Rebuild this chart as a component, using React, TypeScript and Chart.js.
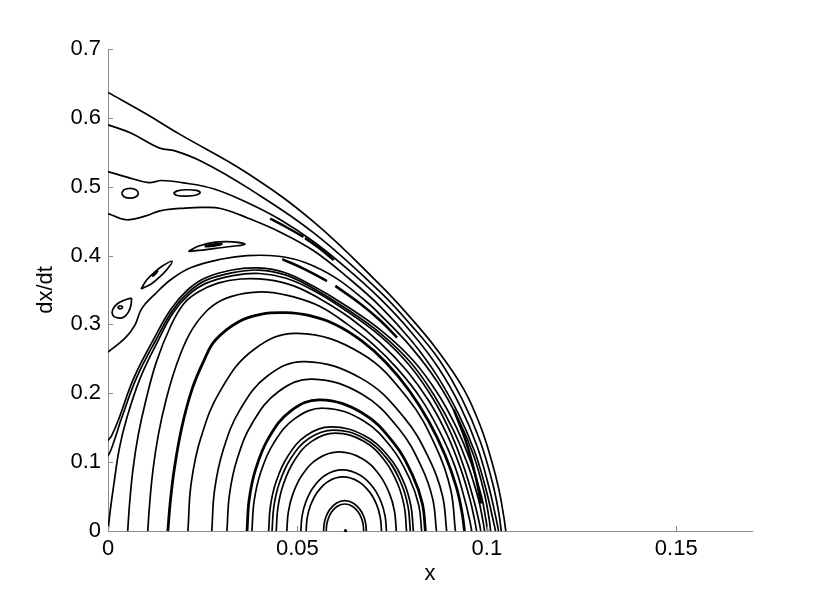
import React, { useEffect, useRef } from 'react';
import { Chart, registerables } from 'chart.js';

Chart.register(...registerables);

type Pt = [number, number];

// ---- axes ----
const xTicks: number[] = [0, 0.05, 0.1, 0.15];
const xTickLabels: string[] = ['0', '0.05', '0.1', '0.15'];
const yTicks: number[] = [0, 0.1, 0.2, 0.3, 0.4, 0.5, 0.6, 0.7];
const yTickLabels: string[] = ['0', '0.1', '0.2', '0.3', '0.4', '0.5', '0.6', '0.7'];
const xRange: number[] = [0, 0.17];
const yRange: number[] = [0, 0.7];

// ---- outer trajectories (leave the wall x = 0) ----
const curveA: Pt[] = [[0, 0.637], [0.010, 0.606], [0.019, 0.576], [0.0367, 0.520], [0.0543, 0.449], [0.0719, 0.357], [0.0800, 0.309], [0.0869, 0.263], [0.0939, 0.206], [0.0984, 0.151], [0.1012, 0.103], [0.1032, 0.060], [0.1045, 0.020], [0.1050, 0]];
const curveB: Pt[] = [[0, 0.590], [0.006, 0.578], [0.0137, 0.556], [0.0177, 0.552], [0.025, 0.536], [0.0367, 0.499], [0.0543, 0.433], [0.0719, 0.347], [0.0800, 0.299], [0.0875, 0.248], [0.0935, 0.191], [0.0982, 0.131], [0.1015, 0.070], [0.1032, 0.025], [0.1038, 0]];
const curveC: Pt[] = [[0, 0.522], [0.005, 0.514], [0.0107, 0.506], [0.0142, 0.509], [0.0195, 0.506], [0.0278, 0.497], [0.0367, 0.477], [0.0455, 0.452], [0.0543, 0.420], [0.0631, 0.381], [0.0719, 0.337], [0.0800, 0.289], [0.0872, 0.237], [0.0930, 0.181], [0.0975, 0.122], [0.1005, 0.065], [0.1023, 0.022], [0.1031, 0]];
const curveD: Pt[] = [[0, 0.461], [0.0049, 0.452], [0.0102, 0.458], [0.0137, 0.465], [0.0204, 0.469], [0.0256, 0.470], [0.0300, 0.468], [0.0367, 0.455], [0.0455, 0.434], [0.0543, 0.407], [0.0631, 0.369], [0.0719, 0.326], [0.0800, 0.277], [0.0868, 0.226], [0.0925, 0.170], [0.0968, 0.115], [0.0998, 0.060], [0.1015, 0.020], [0.1023, 0]];
const curveE: Pt[] = [[0, 0.260], [0.0045, 0.280], [0.0071, 0.299], [0.0089, 0.323], [0.0124, 0.344], [0.0168, 0.366], [0.0221, 0.383], [0.0301, 0.395], [0.0367, 0.400], [0.0450, 0.399], [0.0520, 0.390], [0.0600, 0.368], [0.0680, 0.334], [0.0719, 0.314], [0.0800, 0.267], [0.0870, 0.216], [0.0925, 0.162], [0.0965, 0.110], [0.0993, 0.056], [0.1006, 0.018], [0.1010, 0]];
const curveF: Pt[] = [[0, 0.131], [0.0010, 0.139], [0.0028, 0.162], [0.0068, 0.222], [0.0122, 0.280], [0.0166, 0.322], [0.0210, 0.350], [0.0255, 0.367], [0.0327, 0.379], [0.0397, 0.382], [0.0468, 0.375], [0.0540, 0.356], [0.0620, 0.330], [0.0719, 0.292], [0.0805, 0.248], [0.0870, 0.200], [0.0920, 0.150], [0.0958, 0.100], [0.0986, 0.050], [0.0998, 0.015], [0.1002, 0]];
const curveG: Pt[] = [[0, 0.109], [0.0008, 0.118], [0.0020, 0.137], [0.0036, 0.164], [0.0075, 0.222], [0.0126, 0.277], [0.0170, 0.320], [0.0213, 0.347], [0.0258, 0.364], [0.0328, 0.375], [0.0398, 0.379], [0.0468, 0.372], [0.0540, 0.353], [0.0620, 0.326], [0.0719, 0.287], [0.0800, 0.244], [0.0862, 0.196], [0.0912, 0.146], [0.0950, 0.096], [0.0978, 0.046], [0.0990, 0.014], [0.0994, 0]];
const curveH: Pt[] = [[0, 0], [0.0006, 0.03], [0.0016, 0.07], [0.0030, 0.12], [0.0048, 0.161], [0.0085, 0.222], [0.0130, 0.274], [0.0172, 0.317], [0.0215, 0.344], [0.0260, 0.360], [0.0330, 0.371], [0.0400, 0.374], [0.0470, 0.367], [0.0540, 0.350], [0.0620, 0.323], [0.0719, 0.283], [0.0795, 0.241], [0.0858, 0.192], [0.0905, 0.142], [0.0940, 0.092], [0.0967, 0.042], [0.0980, 0.012], [0.0984, 0]];

// ---- closed orbits around the centre (upper halves) ----
const orbit16: Pt[] = [[0.0052, 0], [0.0057, 0.04], [0.0066, 0.09], [0.0080, 0.14], [0.0100, 0.19], [0.0128, 0.246], [0.0165, 0.297], [0.0200, 0.330], [0.0238, 0.347], [0.0290, 0.360], [0.0350, 0.366], [0.0420, 0.365], [0.0490, 0.356], [0.0560, 0.337], [0.0640, 0.309], [0.0719, 0.273], [0.0790, 0.232], [0.0848, 0.188], [0.0895, 0.140], [0.0930, 0.092], [0.0955, 0.047], [0.0968, 0.015], [0.0973, 0]];
const orbit15: Pt[] = [[0.0105, 0], [0.0110, 0.04], [0.0119, 0.09], [0.0133, 0.14], [0.0153, 0.19], [0.0180, 0.24], [0.0215, 0.286], [0.0256, 0.317], [0.0300, 0.335], [0.0360, 0.345], [0.0420, 0.347], [0.0490, 0.340], [0.0560, 0.326], [0.0630, 0.301], [0.0700, 0.271], [0.0765, 0.235], [0.0825, 0.193], [0.0875, 0.145], [0.0915, 0.095], [0.0942, 0.045], [0.0955, 0.015], [0.0960, 0]];
const orbit14: Pt[] = [[0.0158, 0], [0.0164, 0.04], [0.0175, 0.09], [0.0195, 0.151], [0.0222, 0.206], [0.0252, 0.246], [0.0283, 0.277], [0.0345, 0.304], [0.0406, 0.315], [0.0468, 0.317], [0.0530, 0.313], [0.0600, 0.300], [0.0670, 0.276], [0.0735, 0.244], [0.0795, 0.204], [0.0848, 0.158], [0.0890, 0.110], [0.0920, 0.063], [0.0935, 0.025], [0.0941, 0]];
const orbit13: Pt[] = [[0.0211, 0], [0.02197, 0.0698], [0.02457, 0.1364], [0.02977, 0.2050], [0.03844, 0.2633], [0.050, 0.287], [0.06668, 0.2585], [0.07919, 0.192], [0.0867, 0.1205], [0.09045, 0.0603], [0.0917, 0]];
const orbit12: Pt[] = [[0.0274, 0], [0.02814, 0.0597], [0.03035, 0.1167], [0.03478, 0.1755], [0.04216, 0.2254], [0.052, 0.246], [0.06696, 0.2213], [0.07818, 0.1647], [0.08491, 0.1033], [0.08828, 0.0516], [0.0894, 0]];
const orbit11: Pt[] = [[0.0314, 0], [0.03208, 0.0536], [0.03411, 0.1048], [0.03818, 0.1576], [0.04496, 0.2023], [0.054, 0.2206], [0.06708, 0.1986], [0.07689, 0.1478], [0.08278, 0.0927], [0.08572, 0.0463], [0.0867, 0]];
const orbit10: Pt[] = [[0.0367, 0], [0.03728, 0.0462], [0.03902, 0.0905], [0.04249, 0.136], [0.04828, 0.1746], [0.056, 0.1904], [0.06712, 0.1714], [0.07546, 0.1275], [0.08046, 0.08], [0.08297, 0.04], [0.0838, 0]];
const orbit9: Pt[] = [[0.038, 0], [0.03857, 0.0433], [0.04028, 0.0847], [0.0437, 0.1273], [0.0494, 0.1635], [0.057, 0.1783], [0.06732, 0.1605], [0.07506, 0.1195], [0.0797, 0.0748], [0.08203, 0.0375], [0.0828, 0]];
const orbit8: Pt[] = [[0.0424, 0], [0.0429, 0.0368], [0.04439, 0.0718], [0.04738, 0.1079], [0.05236, 0.1386], [0.059, 0.1511], [0.06764, 0.1386], [0.07412, 0.1079], [0.07801, 0.0718], [0.07995, 0.0368], [0.0806, 0]];
const orbit7: Pt[] = [[0.0433, 0], [0.04379, 0.0357], [0.04524, 0.0696], [0.04816, 0.1047], [0.05302, 0.1344], [0.0595, 0.1466], [0.06762, 0.1344], [0.07371, 0.1047], [0.07736, 0.0696], [0.07919, 0.0357], [0.0798, 0]];
const orbit6: Pt[] = [[0.0444, 0], [0.04487, 0.0346], [0.04627, 0.0675], [0.04908, 0.1014], [0.05376, 0.1302], [0.060, 0.142], [0.06752, 0.1302], [0.07316, 0.1014], [0.07654, 0.0675], [0.07824, 0.0346], [0.0788, 0]];
const orbit5: Pt[] = [[0.0472, 0], [0.04761, 0.0279], [0.04886, 0.0546], [0.05134, 0.082], [0.05548, 0.1053], [0.061, 0.1148], [0.06704, 0.1053], [0.07157, 0.082], [0.07429, 0.0546], [0.07565, 0.0279], [0.0761, 0]];
const orbit4: Pt[] = [[0.0509, 0], [0.05123, 0.0216], [0.05221, 0.0421], [0.05417, 0.0633], [0.05744, 0.0813], [0.0618, 0.0887], [0.06648, 0.0813], [0.0700, 0.0633], [0.0721, 0.0421], [0.07315, 0.0216], [0.0735, 0]];
const orbit3: Pt[] = [[0.0523, 0], [0.05259, 0.0191], [0.05346, 0.0373], [0.05521, 0.0561], [0.05812, 0.072], [0.062, 0.0786], [0.06608, 0.072], [0.06914, 0.0561], [0.07098, 0.0373], [0.07189, 0.0191], [0.0722, 0]];
const orbit2: Pt[] = [[0.0569, 0], [0.05707, 0.0107], [0.05757, 0.021], [0.05858, 0.0314], [0.06026, 0.0404], [0.0625, 0.044], [0.06478, 0.0404], [0.06649, 0.0314], [0.06752, 0.021], [0.06803, 0.0107], [0.0682, 0]];
const orbit1: Pt[] = [[0.0576, 0], [0.05775, 0.0096], [0.05819, 0.0186], [0.05907, 0.028], [0.06054, 0.036], [0.0625, 0.0392], [0.0645, 0.036], [0.0660, 0.028], [0.0669, 0.0186], [0.06735, 0.0096], [0.0675, 0]];
const centrePoint: Pt[] = [[0.0627, 0.0005]];

// ---- resonance islands ----
const island1: Pt[] = [[0.0036, 0.4905], [0.00424, 0.4956], [0.0058, 0.4977], [0.00736, 0.4956], [0.0080, 0.4905], [0.00736, 0.4854], [0.0058, 0.4833], [0.00424, 0.4854], [0.0036, 0.4905]];
const island2: Pt[] = [[0.01728, 0.4905], [0.0183, 0.4940], [0.0208, 0.4956], [0.0233, 0.4946], [0.02432, 0.4915], [0.0233, 0.4880], [0.0208, 0.4864], [0.0183, 0.4872], [0.01728, 0.4905]];
const island3: Pt[] = [[0.0212, 0.406], [0.0240, 0.414], [0.0283, 0.4195], [0.0330, 0.4200], [0.0362, 0.4165], [0.0330, 0.4135], [0.0283, 0.4105], [0.0240, 0.4075], [0.0212, 0.406]];
const island3core: Pt[] = [[0.0255, 0.4135], [0.0278, 0.4162], [0.0300, 0.4168], [0.0278, 0.4142], [0.0255, 0.4135]];
const island4: Pt[] = [[0.00873, 0.3515], [0.01026, 0.3648], [0.01222, 0.3754], [0.01436, 0.3849], [0.01692, 0.3918], [0.01539, 0.3786], [0.01343, 0.3679], [0.01129, 0.3584], [0.00873, 0.3515]];
const island4core: Pt[] = [[0.0116, 0.3702], [0.0125, 0.3753], [0.0130, 0.3774], [0.0121, 0.3718], [0.0116, 0.3702]];
const island5: Pt[] = [[0.00621, 0.3384], [0.00449, 0.3356], [0.00238, 0.3297], [0.00119, 0.3210], [0.00132, 0.3130], [0.00264, 0.3094], [0.00423, 0.3109], [0.00542, 0.3182], [0.00608, 0.3282], [0.00621, 0.3384]];
const island5core: Pt[] = [[0.00251, 0.3249], [0.00317, 0.3271], [0.00383, 0.3249], [0.00317, 0.3227], [0.00251, 0.3249]];

// ---- island-chain fragments ----
const chain1: Pt[] = [[0.0428, 0.4536], [0.0470, 0.4415], [0.0516, 0.4271]];
const chain2: Pt[] = [[0.0520, 0.4255], [0.0558, 0.4105], [0.0596, 0.3935]];
const chain3: Pt[] = [[0.0460, 0.395], [0.0520, 0.380], [0.0578, 0.363]];
const chain4: Pt[] = [[0.0600, 0.356], [0.0666, 0.330], [0.0720, 0.305], [0.0763, 0.281]];
const chain5: Pt[] = [[0.0913, 0.176], [0.0945, 0.130], [0.0968, 0.085], [0.0985, 0.040]];

const AXIS_COLOR = '#8c8c8c';
const FONT_FAMILY = '"Liberation Sans", Arial, Helvetica, sans-serif';

const thinLines: Pt[][] = [curveA, curveB, curveC, curveD, curveE, curveF, curveG, curveH, orbit16, orbit15, orbit13, orbit12, orbit11, orbit9, orbit8, orbit7, orbit6, orbit5, orbit4, orbit3, orbit2, orbit1, island1, island2, island3, island4, island5, island5core];
const thickLines: Pt[][] = [orbit14, orbit10];
const fragmentLines: Pt[][] = [chain1, chain2, chain3, chain4, chain5, island3core, island4core];

const inwardTicks = {
  id: 'inwardTicks',
  afterDraw(chart: any) {
    const { ctx, chartArea, scales } = chart;
    ctx.save();
    ctx.strokeStyle = AXIS_COLOR;
    ctx.lineWidth = 1;
    ctx.beginPath();
    xTicks.forEach((v) => {
      const px = Math.round(scales.x.getPixelForValue(v)) + 0.5;
      ctx.moveTo(px, chartArea.bottom);
      ctx.lineTo(px, chartArea.bottom - 5);
    });
    yTicks.forEach((v) => {
      const py = Math.round(scales.y.getPixelForValue(v)) + 0.5;
      ctx.moveTo(chartArea.left, py);
      ctx.lineTo(chartArea.left + 5, py);
    });
    ctx.stroke();
    ctx.restore();
  },
};

function lineSet(pts: Pt[], width: number) {
  return {
    data: pts.map(([x, y]) => ({ x, y })),
    showLine: true,
    borderColor: '#000',
    backgroundColor: '#000',
    borderWidth: width,
    pointRadius: 0,
    pointHoverRadius: 0,
    tension: 0.4,
    fill: false,
  };
}

export default function App() {
  const ref = useRef<HTMLCanvasElement | null>(null);

  useEffect(() => {
    if (!ref.current) return;
    const datasets: any[] = [
      ...thinLines.map((p) => lineSet(p, 1.7)),
      ...thickLines.map((p) => lineSet(p, 2.8)),
      ...fragmentLines.map((p) => lineSet(p, 2.5)),
      {
        data: centrePoint.map(([x, y]) => ({ x, y })),
        showLine: false,
        pointRadius: 1.6,
        pointBackgroundColor: '#000',
        pointBorderWidth: 0,
        clip: false,
      },
    ];
    const chart = new Chart(ref.current, {
      type: 'scatter',
      data: { datasets },
      options: {
        animation: false,
        responsive: false,
        maintainAspectRatio: false,
        events: [],
        layout: { padding: { top: 49, right: 78, bottom: 0, left: 0 } },
        plugins: { legend: { display: false }, tooltip: { enabled: false } },
        scales: {
          x: {
            type: 'linear',
            min: xRange[0],
            max: xRange[1],
            afterFit: (s: any) => { s.height = 66; },
            afterBuildTicks: (s: any) => { s.ticks = xTicks.map((v) => ({ value: v })); },
            grid: { display: false, drawTicks: false },
            border: { display: true, color: AXIS_COLOR, width: 1 },
            ticks: {
              padding: 5,
              color: '#000',
              maxRotation: 0,
              autoSkip: false,
              font: { family: FONT_FAMILY, size: 22 },
              callback: (_v: any, i: number) => xTickLabels[i],
            },
            title: {
              display: true,
              text: 'x',
              color: '#000',
              font: { family: FONT_FAMILY, size: 22 },
              padding: { top: 0, bottom: 10 },
            },
          },
          y: {
            type: 'linear',
            min: yRange[0],
            max: yRange[1],
            afterFit: (s: any) => { s.width = 108; },
            afterBuildTicks: (s: any) => { s.ticks = yTicks.map((v) => ({ value: v })); },
            grid: { display: false, drawTicks: false },
            border: { display: true, color: AXIS_COLOR, width: 1 },
            ticks: {
              padding: 7,
              color: '#000',
              autoSkip: false,
              font: { family: FONT_FAMILY, size: 22 },
              callback: (_v: any, i: number) => yTickLabels[i],
            },
            title: {
              display: true,
              text: 'dx/dt',
              color: '#000',
              font: { family: FONT_FAMILY, size: 22 },
              padding: { top: 33, bottom: 0 },
            },
          },
        },
      },
      plugins: [inwardTicks],
    });
    return () => chart.destroy();
  }, []);

  return (
    <div style={{ position: 'fixed', left: 0, top: 0, width: 830, height: 597, background: '#fff' }}>
      <canvas ref={ref} width={830} height={597} style={{ display: 'block', width: 830, height: 597 }} />
    </div>
  );
}
